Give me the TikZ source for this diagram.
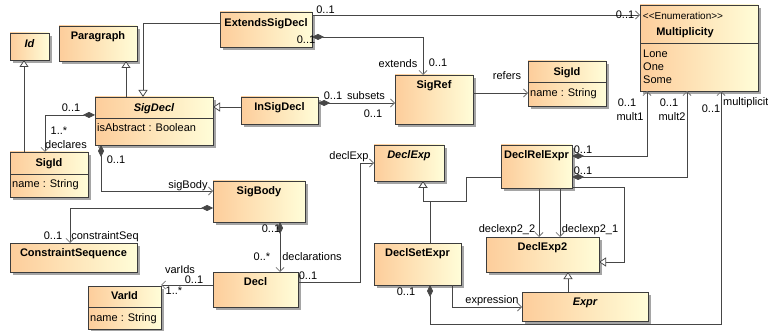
\documentclass[tikz,border=0pt]{standalone}
\usepackage{fontspec}
\setmainfont{Liberation Sans}
\usetikzlibrary{arrows.meta,shadows,calc}
\definecolor{boxline}{RGB}{60,60,60}
\definecolor{linec}{RGB}{70,70,70}
\definecolor{arrc}{RGB}{120,120,120}
\definecolor{shadowc}{RGB}{165,165,165}
\definecolor{cA}{RGB}{253,205,155}
\definecolor{cB}{RGB}{255,253,216}
\newcommand\cbox[5]{\node[cls, minimum width={(#4)-(#2)}, minimum height={(#5)-(#3)}] (#1) at (#2,#3) {};}
\begin{document}
\begin{tikzpicture}[x=1pt,y=-1pt,
  font=\fontsize{11}{13}\selectfont,
  cls/.style={draw=boxline, line width=0.9pt, left color=cA, right color=cB,
    drop shadow={shadow xshift=3pt, shadow yshift=-3pt, fill=shadowc, opacity=1},
    anchor=north west, inner sep=0pt, outer sep=0pt},
  nm/.style={font=\fontsize{11}{13}\selectfont\bfseries, inner sep=0pt, text height=7.9pt, text depth=0pt},
  nmi/.style={font=\fontsize{11}{13}\selectfont\bfseries\itshape, inner sep=0pt, text height=7.9pt, text depth=0pt},
  lbl/.style={inner sep=0pt, text height=7.9pt, text depth=0pt},
  att/.style={lbl, anchor=west},
  divl/.style={draw=boxline, line width=0.9pt},
  rel/.style={draw=linec, line width=0.75pt},
  navs/.style={rel, -{Straight Barb[length=4pt,width=8pt,color=arrc,line width=0.75pt]}},
  comp/.style={rel, {Diamond[length=12pt,width=6pt,color=linec]}-{Straight Barb[length=4pt,width=8pt,color=arrc,line width=0.75pt]}},
  gen/.style={rel, -{Triangle[open,fill=white,length=7pt,width=9pt,line width=0.75pt]}}
]
\useasboundingbox (0,0) rectangle (768,331);

% ---------- boxes ----------
\cbox{id}{10}{33}{49}{60}
\cbox{para}{59}{26}{137}{61}
\cbox{ext}{220}{12}{312}{47}
\cbox{sigdecl}{95}{97}{213}{145}
\cbox{insig}{241}{97}{318}{124}
\cbox{sigref}{395}{75}{473}{124}
\cbox{mult}{640}{5}{758}{91}
\cbox{sigidR}{528}{61}{606}{106}
\cbox{sigidL}{10}{152}{88}{197}
\cbox{sigbody}{213}{181}{305}{222}
\cbox{cseq}{10}{243}{137}{272}
\cbox{decl}{213}{272}{298}{307}
\cbox{varid}{88}{286}{161}{329}
\cbox{dexp}{374}{145}{444}{181}
\cbox{drel}{501}{145}{572}{188}
\cbox{dexp2}{486}{237}{599}{272}
\cbox{dset}{374}{243}{461}{285}
\cbox{expr}{522}{292}{648}{321}

% dividers
\draw[divl] ($(sigdecl.north west)+(0,21)$) -- ($(sigdecl.north east)+(0,21)$);
\draw[divl] ($(sigidR.north west)+(0,21)$) -- ($(sigidR.north east)+(0,21)$);
\draw[divl] ($(sigidL.north west)+(0,22)$) -- ($(sigidL.north east)+(0,22)$);
\draw[divl] ($(varid.north west)+(0,21)$) -- ($(varid.north east)+(0,21)$);
\draw[divl] ($(mult.north west)+(0,38)$) -- ($(mult.north east)+(0,38)$);

% names
\node[nmi] (idT) at ($(id.north)+(0,10.5)$) {Id};
\node[nm] (paraT) at ($(para.north)+(0,10)$) {Paragraph};
\node[nm] (extT) at ($(ext.north)+(0,10.5)$) {ExtendsSigDecl};
\node[nmi] (sigdeclT) at ($(sigdecl.north)+(0,10.5)$) {SigDecl};
\node[att] (sigdeclA) at ($(sigdecl.north west)+(2,30.5)$) {isAbstract : Boolean};
\node[nm] (insigT) at ($(insig.north)+(0,10)$) {InSigDecl};
\node[nm] (sigrefT) at ($(sigref.north)+(0,10)$) {SigRef};
\node[lbl, font=\fontsize{10}{12}\selectfont] (multS) at (683,15.5) {<\kern0pt<Enumeration>\kern0pt>};
\node[nm] (multT) at (685,31.5) {Multiplicity};
\node[att] (multA) at ($(mult.north west)+(3,48.5)$) {Lone};
\node[att] (multB) at ($(mult.north west)+(3,61.5)$) {One};
\node[att] (multC) at ($(mult.north west)+(3,74.5)$) {Some};
\node[nm] (sigidRT) at ($(sigidR.north)+(0,10.5)$) {SigId};
\node[att] (sigidRA) at ($(sigidR.north west)+(2,32)$) {name : String};
\node[nm] (sigidLT) at ($(sigidL.north)+(0,11)$) {SigId};
\node[att] (sigidLA) at ($(sigidL.north west)+(2,32)$) {name : String};
\node[nm] (sigbodyT) at ($(sigbody.north)+(0,10)$) {SigBody};
\node[nm] (cseqT) at ($(cseq.north)+(0,10)$) {ConstraintSequence};
\node[nm] (declT) at ($(decl.north)+(0,9.5)$) {Decl};
\node[nm] (varidT) at ($(varid.north)+(0,10)$) {VarId};
\node[att] (varidA) at ($(varid.north west)+(2,31.5)$) {name : String};
\node[nmi] (dexpT) at ($(dexp.north)+(0,10)$) {DeclExp};
\node[nm] (drelT) at ($(drel.north)+(0,10)$) {DeclRelExpr};
\node[nm] (dexp2T) at ($(dexp2.north)+(0,10)$) {DeclExp2};
\node[nm] (dsetT) at ($(dset.north)+(0,10)$) {DeclSetExpr};
\node[nmi] (exprT) at ($(expr.north)+(0,10)$) {Expr};

% ---------- generalizations ----------
\draw[gen] ($(sigidL.north west)+(14,0)$) -- ($(id.south west)+(14,0)$);
\draw[gen] ($(sigdecl.north west)+(31,0)$) -- ($(para.south west)+(67,0)$);
\draw[gen] ($(ext.north west)+(0,11)$) -| ($(sigdecl.north west)+(48,0)$);
\draw[gen] ($(insig.north west)+(0,10)$) -- ($(sigdecl.north east)+(0,10)$);
\draw[gen] ($(dset.north west)+(56,0)$) -- ++(0,-42) -| ($(dexp.south west)+(49,0)$);
\draw[gen] ($(drel.north west)+(0,32)$) -- ++(-35,0) -- ++(0,24) -| ($(dexp.south west)+(49,0)$);
\draw[gen] ($(drel.south east)+(0,-1)$) -- ++(52,0) |- ($(dexp2.north east)+(0,25)$);
\draw[gen] ($(expr.north west)+(46,0)$) -- ($(dexp2.south west)+(82,0)$);

% ---------- associations ----------
\draw[navs] ($(ext.north east)+(0,3)$) -- ($(mult.north west)+(0,10)$);
\draw[comp] ($(ext.north east)+(0,25)$) -| ($(sigref.north west)+(28,0)$);
\draw[comp] ($(insig.north east)+(0,6)$) -- ($(sigref.north west)+(0,28)$);
\draw[navs] ($(sigref.north east)+(0,18)$) -- ($(sigidR.north west)+(0,32)$);
\draw[comp] ($(sigdecl.north west)+(0,18)$) -| ($(sigidL.north west)+(35,0)$);
\draw[comp] ($(sigdecl.south west)+(6,0)$) |- ($(sigbody.north west)+(0,10)$);
\draw[comp] ($(sigbody.north west)+(0,27)$) -| ($(cseq.north west)+(60,0)$);
\draw[comp] ($(sigbody.south west)+(67,0)$) -- ($(decl.north west)+(67,0)$);
\draw[navs] ($(decl.north west)+(0,13)$) -- ($(varid.north east)+(0,-1)$);
\draw[navs] ($(decl.north east)+(0,10)$) -- ++(62,0) |- ($(dexp.north west)+(0,18)$);
\draw[comp] ($(drel.north east)+(0,11)$) -| ($(mult.south west)+(7,0)$);
\draw[comp] ($(drel.north east)+(0,32)$) -| ($(mult.south west)+(47,0)$);
\draw[navs] ($(drel.south west)+(38,0)$) -- ($(dexp2.north west)+(53,0)$);
\draw[navs] ($(drel.south west)+(59,0)$) -- ($(dexp2.north west)+(74,0)$);
\draw[navs] ($(dset.south west)+(78,0)$) |- ($(expr.north west)+(0,15)$);
\draw[comp] ($(dset.south west)+(56,0)$) -- ++(0,39) -| ($(mult.south west)+(81,0)$);

% ---------- labels ----------
\node[lbl] (l1) at (325.5,9.5) {0..1};
\node[lbl] (l2) at (625,15) {0..1};
\node[lbl] (l3) at (306,40) {0..1};
\node[lbl] (l4) at (398,64) {extends};
\node[lbl] (l5) at (438,63) {0..1};
\node[lbl] (l6) at (333,96) {0..1};
\node[lbl] (l7) at (366,96) {subsets};
\node[lbl] (l8) at (373,114) {0..1};
\node[lbl] (l9) at (507,76) {refers};
\node[lbl] (l10) at (71,108) {0..1};
\node[lbl] (l11) at (59,131) {1..*};
\node[lbl] (l12) at (66,145) {declares};
\node[lbl] (l13) at (116,160) {0..1};
\node[lbl] (l14) at (188,185) {sigBody};
\node[lbl] (l15) at (53,236) {0..1};
\node[lbl] (l16) at (105,236) {constraintSeq};
\node[lbl] (l17) at (271,229) {0..1};
\node[lbl] (l18) at (262,257) {0..*};
\node[lbl] (l19) at (312,257) {declarations};
\node[lbl] (l20) at (180,269.5) {varIds};
\node[lbl] (l21) at (194,279.5) {0..1};
\node[lbl] (l22) at (174,291) {1..*};
\node[lbl] (l23) at (308,276) {0..1};
\node[lbl] (l24) at (349,156) {declExp};
\node[lbl] (l25) at (583,150) {0..1};
\node[lbl] (l26) at (627,103) {0..1};
\node[lbl] (l27) at (630,117) {mult1};
\node[lbl] (l28) at (583,171) {0..1};
\node[lbl] (l29) at (669,103) {0..1};
\node[lbl] (l30) at (672,117) {mult2};
\node[lbl] (l31) at (507,229) {declexp2\_2};
\node[lbl] (l32) at (590,229) {declexp2\_1};
\node[lbl] (l33) at (492,300) {expression};
\node[lbl] (l34) at (406,292) {0..1};
\node[lbl] (l35) at (711,109) {0..1};
\node[lbl, anchor=west] (l36) at (723,102) {multiplicity};
\end{tikzpicture}
\end{document}
